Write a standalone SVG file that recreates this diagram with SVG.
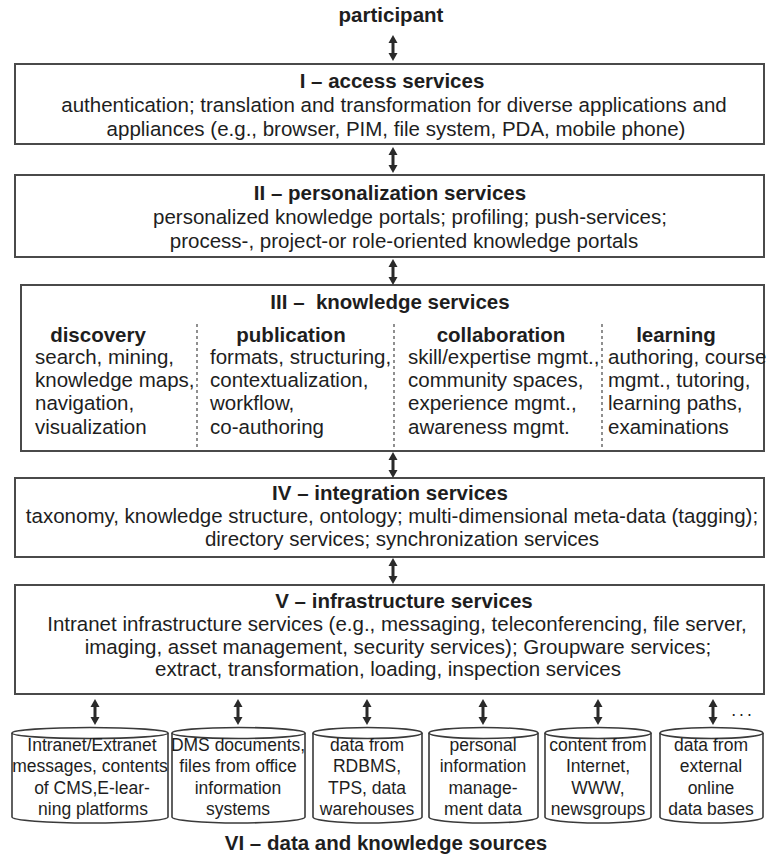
<svg xmlns="http://www.w3.org/2000/svg" width="768" height="854" viewBox="0 0 768 854">
  <style>
    .box { fill: #ffffff; stroke: #4a4a4a; stroke-width: 2; }
    .cyl { fill: #ffffff; stroke: #3a3a3a; stroke-width: 1.6; }
    .div { stroke: #555555; stroke-width: 1.3; stroke-dasharray: 3 3; }
    .arr { fill: #2a2a2a; }
    text { font-family: "Liberation Sans", Arial, sans-serif; fill: #1e1e1e; }
    .t { font-size: 20.5px; font-weight: bold; text-anchor: middle; }
    .b { font-size: 20.5px; text-anchor: middle; }
    .l { font-size: 20.5px; }
    .c { font-size: 17.5px; text-anchor: middle; }
  </style>
  <defs>
    <!-- double-headed vertical arrow, 26px tall, origin at top tip -->
    <path id="dArrow" d="M0,0 L4.5,8 L1.5,8 L1.5,18 L4.5,18 L0,26 L-4.5,18 L-1.5,18 L-1.5,8 L-4.5,8 Z"/>
  </defs>

  <g id="participant">
    <text class="t" x="391" y="22">participant</text>
  </g>

  <g id="access-services">
    <rect class="box" x="15" y="64" width="749" height="80"/>
    <text class="t" x="392" y="88">I – access services</text>
    <text class="b" x="394" y="112">authentication; translation and transformation for diverse applications and</text>
    <text class="b" x="396" y="136">appliances (e.g., browser, PIM, file system, PDA, mobile phone)</text>
  </g>

  <g id="personalization-services">
    <rect class="box" x="15" y="175" width="749" height="82"/>
    <text class="t" x="390" y="200">II – personalization services</text>
    <text class="b" x="410" y="224">personalized knowledge portals; profiling; push-services;</text>
    <text class="b" x="404" y="248">process-, project-or role-oriented knowledge portals</text>
  </g>

  <g id="knowledge-services">
    <rect class="box" x="21" y="285" width="743" height="166"/>
    <text class="t" x="390" y="309" xml:space="preserve">III –  knowledge services</text>
    <line class="div" x1="197" y1="324" x2="197" y2="450"/>
    <line class="div" x1="394" y1="324" x2="394" y2="450"/>
    <line class="div" x1="602" y1="324" x2="602" y2="450"/>
    <text class="t" x="98" y="342">discovery</text>
    <text class="l" x="35" y="364">search, mining,</text>
    <text class="l" x="35" y="387">knowledge maps,</text>
    <text class="l" x="35" y="410">navigation,</text>
    <text class="l" x="35" y="434">visualization</text>
    <text class="t" x="291" y="342">publication</text>
    <text class="l" x="210" y="364">formats, structuring,</text>
    <text class="l" x="210" y="387">contextualization,</text>
    <text class="l" x="210" y="410">workflow,</text>
    <text class="l" x="210" y="434">co-authoring</text>
    <text class="t" x="501" y="342">collaboration</text>
    <text class="l" x="408" y="364">skill/expertise mgmt.,</text>
    <text class="l" x="408" y="387">community spaces,</text>
    <text class="l" x="408" y="410">experience mgmt.,</text>
    <text class="l" x="408" y="434">awareness mgmt.</text>
    <text class="t" x="676" y="342">learning</text>
    <text class="l" x="608" y="364">authoring, course</text>
    <text class="l" x="608" y="387">mgmt., tutoring,</text>
    <text class="l" x="608" y="410">learning paths,</text>
    <text class="l" x="608" y="434">examinations</text>
  </g>

  <g id="integration-services">
    <rect class="box" x="15" y="478" width="749" height="79"/>
    <text class="t" x="390" y="500">IV – integration services</text>
    <text class="b" x="392" y="523">taxonomy, knowledge structure, ontology; multi-dimensional meta-data (tagging);</text>
    <text class="b" x="402" y="546">directory services; synchronization services</text>
  </g>

  <g id="infrastructure-services">
    <rect class="box" x="15" y="585" width="749" height="109"/>
    <text class="t" x="404" y="608">V – infrastructure services</text>
    <text class="b" x="397" y="631">Intranet infrastructure services (e.g., messaging, teleconferencing, file server,</text>
    <text class="b" x="398" y="654">imaging, asset management, security services); Groupware services;</text>
    <text class="b" x="388" y="676">extract, transformation, loading, inspection services</text>
  </g>

  <g id="source-intranet">
    <path class="cyl" d="M12,733 L12,817 A78,6 0 0 0 168,817 L168,733"/>
    <ellipse class="cyl" cx="90" cy="733" rx="78" ry="5.5"/>
    <text class="c" x="92" y="751">Intranet/Extranet</text>
    <text class="c" x="90" y="772">messages, contents</text>
    <text class="c" x="92" y="794">of CMS,E-lear-</text>
    <text class="c" x="93" y="815">ning platforms</text>
  </g>

  <g id="source-dms">
    <path class="cyl" d="M172,733 L172,817 A66.5,6 0 0 0 305,817 L305,733"/>
    <ellipse class="cyl" cx="238.5" cy="733" rx="66.5" ry="5.5"/>
    <text class="c" x="238" y="751">DMS documents,</text>
    <text class="c" x="238" y="772">files from office</text>
    <text class="c" x="238" y="794">information</text>
    <text class="c" x="238" y="815">systems</text>
  </g>

  <g id="source-rdbms">
    <path class="cyl" d="M313,733 L313,817 A54.5,6 0 0 0 422,817 L422,733"/>
    <ellipse class="cyl" cx="367.5" cy="733" rx="54.5" ry="5.5"/>
    <text class="c" x="367" y="751">data from</text>
    <text class="c" x="367" y="772">RDBMS,</text>
    <text class="c" x="367" y="794">TPS, data</text>
    <text class="c" x="367" y="815">warehouses</text>
  </g>

  <g id="source-pim">
    <path class="cyl" d="M429,733 L429,817 A54.5,6 0 0 0 538,817 L538,733"/>
    <ellipse class="cyl" cx="483.5" cy="733" rx="54.5" ry="5.5"/>
    <text class="c" x="483" y="751">personal</text>
    <text class="c" x="483" y="772">information</text>
    <text class="c" x="483" y="794">manage-</text>
    <text class="c" x="483" y="815">ment data</text>
  </g>

  <g id="source-internet">
    <path class="cyl" d="M545,733 L545,817 A53,6 0 0 0 651,817 L651,733"/>
    <ellipse class="cyl" cx="598" cy="733" rx="53" ry="5.5"/>
    <text class="c" x="598" y="751">content from</text>
    <text class="c" x="598" y="772">Internet,</text>
    <text class="c" x="598" y="794">WWW,</text>
    <text class="c" x="598" y="815">newsgroups</text>
  </g>

  <g id="source-external">
    <path class="cyl" d="M660,733 L660,817 A51.5,6 0 0 0 763,817 L763,733"/>
    <ellipse class="cyl" cx="711.5" cy="733" rx="51.5" ry="5.5"/>
    <text class="c" x="711" y="751">data from</text>
    <text class="c" x="711" y="772">external</text>
    <text class="c" x="711" y="794">online</text>
    <text class="c" x="711" y="815">data bases</text>
  </g>

  <g id="sources-label">
    <text class="t" x="386" y="850">VI – data and knowledge sources</text>
  </g>

  <g id="connectors">
    <use class="arr" href="#dArrow" x="393" y="35"/>
    <use class="arr" href="#dArrow" x="393" y="147"/>
    <use class="arr" href="#dArrow" x="393" y="259"/>
    <use class="arr" href="#dArrow" x="393" y="452"/>
    <use class="arr" href="#dArrow" x="393" y="558"/>
    <use class="arr" href="#dArrow" x="95" y="699"/>
    <use class="arr" href="#dArrow" x="238" y="699"/>
    <use class="arr" href="#dArrow" x="367" y="699"/>
    <use class="arr" href="#dArrow" x="483" y="699"/>
    <use class="arr" href="#dArrow" x="598" y="699"/>
    <use class="arr" href="#dArrow" x="713" y="699"/>
    <text class="c" x="743" y="716" letter-spacing="3">...</text>
  </g>
</svg>
